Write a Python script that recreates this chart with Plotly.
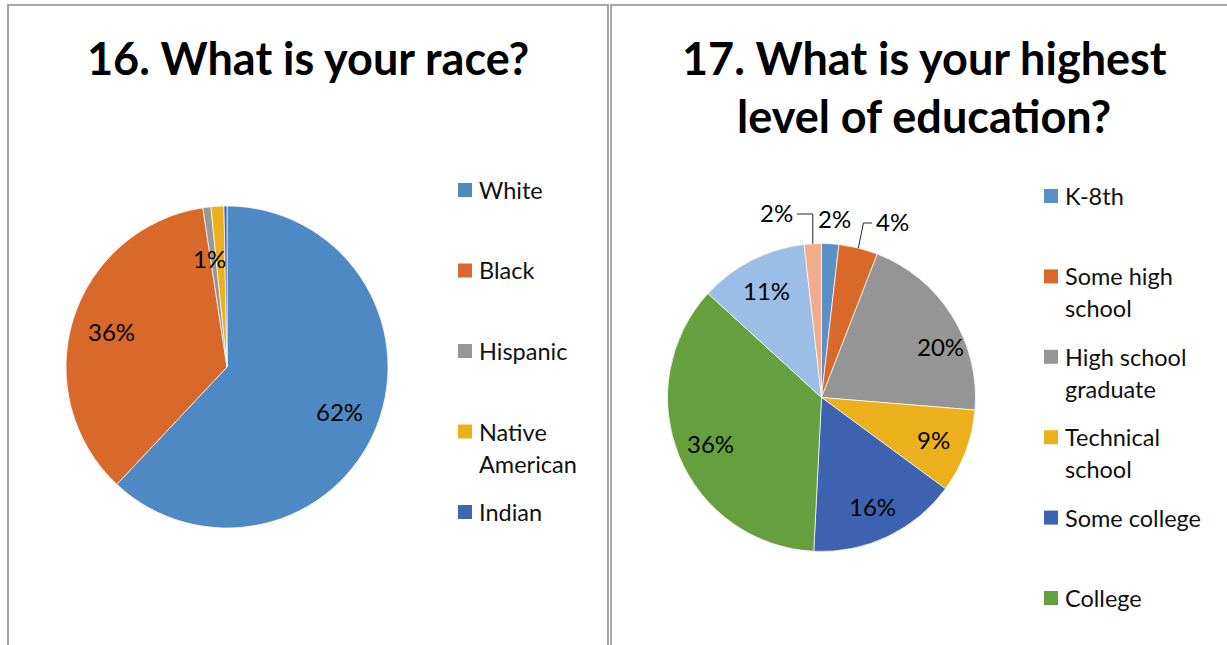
import math
import plotly.graph_objects as go

W, H = 1227, 645

# ---- data -------------------------------------------------------------
race_labels = ["White", "Black", "Hispanic", "Native American", "Indian"]
race_values = [62.0, 35.6, 0.8, 1.3, 0.3]
race_colors = ["#4f89c3", "#d8692a", "#979797", "#ebb01c", "#3e66b5"]
race_legend_text = ["White", "Black", "Hispanic", "Native<br>American", "Indian"]
race_show_label = [True, True, True, False, False]

edu_labels = ["K-8th", "Some high school", "High school graduate",
              "Technical school", "Some college", "College",
              "Graduate school", "Other"]
edu_values = [1.8, 4.1, 20.4, 8.8, 15.7, 36.0, 11.4, 1.8]
edu_colors = ["#5a90c8", "#d9692a", "#959595", "#ebb01c", "#3d63b0",
              "#66a03e", "#9cbde6", "#f2ac8c"]
edu_legend_text = ["K-8th", "Some high<br>school", "High school<br>graduate",
                   "Technical<br>school", "Some college", "College"]

# ---- styling ----------------------------------------------------------
FONT = "Lato, 'Open Sans', sans-serif"
TITLE_SIZE = 45
LABEL_SIZE = 24
LEGEND_SIZE = 23.5
BORDER = "#a6a6a6"

LEFT = dict(cx=227, cy=367, r=161, label_r=0.75)
RIGHT = dict(cx=821.5, cy=397.5, r=154, label_r=0.78)

# slices whose label sits outside the pie, with a leader line where needed
edu_outside = {0: (834, 218, False), 1: (892, 221, True), 7: (776, 212, True)}
edu_nudge = {2: (17, 13)}
race_nudge = {2: (-4, 0)}


def px(x):
    return x / W


def py(y):
    return 1 - y / H


def domain(p):
    return dict(x=[px(p["cx"] - p["r"]), px(p["cx"] + p["r"])],
                y=[py(p["cy"] + p["r"]), py(p["cy"] - p["r"])])


def mid_angles(values):
    total = sum(values)
    acc, out = 0.0, []
    for v in values:
        out.append((acc + v / 2) / total * 360.0)
        acc += v
    return out


def polar(p, frac, ang):
    a = math.radians(ang)
    return p["cx"] + frac * p["r"] * math.sin(a), p["cy"] - frac * p["r"] * math.cos(a)


fig = go.Figure()
for vals, labs, cols, p in [(race_values, race_labels, race_colors, LEFT),
                            (edu_values, edu_labels, edu_colors, RIGHT)]:
    fig.add_trace(go.Pie(
        values=vals, labels=labs, sort=False, direction="clockwise", rotation=0,
        marker=dict(colors=cols, line=dict(color="rgba(255,255,255,0.7)", width=1)),
        textinfo="none", hoverinfo="label+percent", showlegend=False,
        domain=domain(p),
    ))

ann = []
shapes = []

# panel frames
for x0, x1 in [(8, 608), (611, 1240)]:
    shapes.append(dict(type="rect", xref="paper", yref="paper",
                       x0=px(x0), x1=px(x1), y0=py(660), y1=py(5),
                       line=dict(color=BORDER, width=2), fillcolor="rgba(0,0,0,0)"))

# titles
ann.append(dict(text="<b>16. What is your race?</b>", x=px(308), y=py(58),
                font=dict(size=TITLE_SIZE, color="#000")))
ann.append(dict(text="<b>17. What is your highest</b>", x=px(924), y=py(58),
                font=dict(size=TITLE_SIZE, color="#000")))
ann.append(dict(text="<b>level of education?</b>", x=px(924), y=py(116),
                font=dict(size=TITLE_SIZE, color="#000")))

# percentage labels: race
total = sum(race_values)
for i, (v, ang) in enumerate(zip(race_values, mid_angles(race_values))):
    if not race_show_label[i]:
        continue
    frac = LEFT["label_r"] if v / total > 0.05 else 0.68
    x, y = polar(LEFT, frac, ang)
    dx, dy = race_nudge.get(i, (0, 0))
    ann.append(dict(text=f"{round(v / total * 100)}%", x=px(x + dx), y=py(y + dy),
                    font=dict(size=LABEL_SIZE, color="#000")))

# percentage labels: education
total = sum(edu_values)
for i, (v, ang) in enumerate(zip(edu_values, mid_angles(edu_values))):
    txt = f"{round(v / total * 100)}%"
    if i in edu_outside:
        lx, ly, leader = edu_outside[i]
        ann.append(dict(text=txt, x=px(lx), y=py(ly),
                        font=dict(size=LABEL_SIZE, color="#000")))
        if leader:
            rx, ry = polar(RIGHT, 1.0, ang)
            if lx > rx:
                sx, hx = lx - 20, rx + 5
            else:
                sx, hx = lx + 21, rx
            sy = ly + 2
            path = f"M {px(sx)} {py(sy)} L {px(hx)} {py(sy)} L {px(rx)} {py(ry)}"
            shapes.append(dict(type="path", xref="paper", yref="paper", path=path,
                               line=dict(color="#262626", width=1)))
        continue
    x, y = polar(RIGHT, RIGHT["label_r"], ang)
    dx, dy = edu_nudge.get(i, (0, 0))
    ann.append(dict(text=txt, x=px(x + dx), y=py(y + dy),
                    font=dict(size=LABEL_SIZE, color="#000")))


# legends (boxes and wrapped text)
def legend(texts, cols, sq_x, txt_x, y0, step):
    for i, t in enumerate(texts):
        yc = y0 + i * step
        shapes.append(dict(type="rect", xref="paper", yref="paper",
                           x0=px(sq_x), x1=px(sq_x + 14), y0=py(yc + 7), y1=py(yc - 7),
                           fillcolor=cols[i], line=dict(width=0)))
        for j, line in enumerate(t.split("<br>")):
            ann.append(dict(text=line, x=px(txt_x), y=py(yc + j * 32), xanchor="left",
                            font=dict(size=LEGEND_SIZE, color="#111")))


legend(race_legend_text, race_colors, 458, 477, 190, 80.5)
legend(edu_legend_text, edu_colors, 1044, 1063, 196, 80.4)

for a in ann:
    a.setdefault("xref", "paper")
    a.setdefault("yref", "paper")
    a.setdefault("showarrow", False)
    a.setdefault("xanchor", "center")
    a.setdefault("yanchor", "middle")

fig.update_layout(
    width=W, height=H, margin=dict(l=0, r=0, t=0, b=0),
    paper_bgcolor="white", plot_bgcolor="white",
    font=dict(family=FONT, color="#000"),
    annotations=ann, shapes=shapes,
)

fig.write_html("out.html")
